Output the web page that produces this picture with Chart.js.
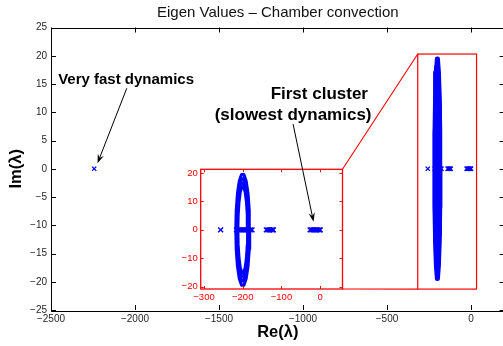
<!DOCTYPE html>
<html>
<head>
<meta charset="utf-8">
<script src="https://cdn.jsdelivr.net/npm/chart.js@4.4.0/dist/chart.umd.min.js"></script>
<style>
  html, body { margin: 0; padding: 0; background: #fff; overflow: hidden; width: 503px; height: 346px; }
  canvas { position: absolute; left: 0; top: 0; }
</style>
</head>
<body>
<canvas id="main" width="510" height="346"></canvas>
<canvas id="inset" width="510" height="346"></canvas>
<script>
/* DATA: eigenvalues [Re, Im] */
var fastMode = [[-2243, 0]];

var realAxis = [
  [-257, 0],
  [-216, 0], [-212, 0], [-208, 0], [-204, 0], [-200, 0], [-196, 0],
  [-192, 0], [-188, 0], [-184, 0], [-180, 0], [-176, 0],
  [-139, 0], [-135, 0], [-131, 0], [-127, 0], [-123, 0], [-121, 0],
  [-26, 0], [-22, 0], [-18, 0], [-14, 0], [-10, 0], [-6, 0], [-2, 0], [0, 0]
];

// the dense oval band around Re = -200, traced as four nested outlines
var ringOuter = [
  [-182.0, 0], [-183.1, 6.8], [-186.2, 12.7], [-191.0, 17.1], [-196.9, 19.5],
  [-203.1, 19.5], [-209.0, 17.1], [-213.8, 12.7], [-216.9, 6.8], [-218.0, 0],
  [-216.9, -6.8], [-213.8, -12.7], [-209.0, -17.1], [-203.1, -19.5], [-196.9, -19.5],
  [-191.0, -17.1], [-186.2, -12.7], [-183.1, -6.8], [-182.0, 0]
];
var ringMid1 = [
  [-184.2, 0], [-185.2, 6.3], [-187.9, 11.8], [-192.1, 15.8], [-197.3, 18.0],
  [-202.7, 18.0], [-207.9, 15.8], [-212.1, 11.8], [-214.8, 6.3], [-215.8, 0],
  [-214.8, -6.3], [-212.1, -11.8], [-207.9, -15.8], [-202.7, -18.0], [-197.3, -18.0],
  [-192.1, -15.8], [-187.9, -11.8], [-185.2, -6.3], [-184.2, 0]
];
var ringMid2 = [
  [-185.8, 0], [-186.7, 5.7], [-189.1, 10.8], [-192.9, 14.5], [-197.5, 16.5],
  [-202.5, 16.5], [-207.1, 14.5], [-210.9, 10.8], [-213.3, 5.7], [-214.2, 0],
  [-213.3, -5.7], [-210.9, -10.8], [-207.1, -14.5], [-202.5, -16.5], [-197.5, -16.5],
  [-192.9, -14.5], [-189.1, -10.8], [-186.7, -5.7], [-185.8, 0]
];
var ringInner = [
  [-187.5, 0], [-188.3, 5.2], [-190.4, 9.8], [-193.8, 13.3], [-197.8, 15.1],
  [-202.2, 15.1], [-206.3, 13.3], [-209.6, 9.8], [-211.8, 5.2], [-212.5, 0],
  [-211.8, -5.2], [-209.6, -9.8], [-206.3, -13.3], [-202.2, -15.1], [-197.8, -15.1],
  [-193.8, -13.3], [-190.4, -9.8], [-188.3, -5.2], [-187.5, 0]
];

var xTicks = [-2500, -2000, -1500, -1000, -500, 0];
var yTicks = [-25, -20, -15, -10, -5, 0, 5, 10, 15, 20, 25];
var insetXTicks = [-300, -200, -100, 0];
var insetYTicks = [-20, -10, 0, 10, 20];
/* DATA */

var FONT = 'Liberation Sans, Arial, Helvetica, sans-serif';
var BLUE = '#0000ff';
var RED = '#ff0000';

// zoom rectangle in the main axes and its inset
var zoomBox = { re: [-317, 33], im: [-21.3, 20.3] };

function fmt(v) { return String(v).replace('-', '\u2212'); }
function toXY(p) { return { x: p[0], y: p[1] }; }

function buildDatasets(ringWidth, markSize) {
  var sets = [ringOuter, ringMid1, ringMid2, ringInner].map(function (ring) {
    return {
      data: ring.map(toXY),
      showLine: true,
      borderColor: BLUE,
      borderWidth: ringWidth,
      borderJoinStyle: 'round',
      borderCapStyle: 'round',
      pointRadius: 0,
      fill: false
    };
  });
  sets.push({
    data: realAxis.concat(fastMode).map(toXY),
    showLine: false,
    pointStyle: 'crossRot',
    pointRadius: markSize,
    pointBorderColor: BLUE,
    pointBorderWidth: 1.4,
    borderColor: BLUE
  });
  return sets;
}

function fixTicks(list) {
  return function (scale) { scale.ticks = list.map(function (v) { return { value: v }; }); };
}

function inwardTicks(ctx, chart, xs, ys, len) {
  var a = chart.chartArea, sx = chart.scales.x, sy = chart.scales.y;
  ctx.beginPath();
  xs.forEach(function (v) {
    var px = Math.round(sx.getPixelForValue(v)) + 0.5;
    ctx.moveTo(px, a.bottom); ctx.lineTo(px, a.bottom - len);
    ctx.moveTo(px, a.top); ctx.lineTo(px, a.top + len);
  });
  ys.forEach(function (v) {
    var py = Math.round(sy.getPixelForValue(v)) + 0.5;
    ctx.moveTo(a.left, py); ctx.lineTo(a.left + len, py);
    ctx.moveTo(a.right, py); ctx.lineTo(a.right - len, py);
  });
  ctx.stroke();
}

function arrow(ctx, x0, y0, x1, y1) {
  var ang = Math.atan2(y1 - y0, x1 - x0);
  var c = Math.cos(ang), s = Math.sin(ang);
  var len = 9, half = 3.2, notch = 6;
  ctx.beginPath(); ctx.moveTo(x0, y0); ctx.lineTo(x1 - notch * c, y1 - notch * s); ctx.stroke();
  ctx.beginPath();
  ctx.moveTo(x1, y1);
  ctx.lineTo(x1 - len * c - half * s, y1 - len * s + half * c);
  ctx.lineTo(x1 - notch * c, y1 - notch * s);
  ctx.lineTo(x1 - len * c + half * s, y1 - len * s - half * c);
  ctx.closePath();
  ctx.fill();
}

var mainFrame = {
  id: 'mainFrame',
  afterDraw: function (chart) {
    var ctx = chart.ctx, a = chart.chartArea;
    var sx = chart.scales.x, sy = chart.scales.y;
    ctx.save();
    ctx.strokeStyle = '#000';
    ctx.lineWidth = 1;
    ctx.strokeRect(Math.round(a.left) + 0.5, Math.round(a.top) + 0.5,
      Math.round(a.right - a.left), Math.round(a.bottom - a.top));
    inwardTicks(ctx, chart, xTicks, yTicks, 5);
    // zoom box
    ctx.strokeStyle = RED;
    ctx.lineWidth = 1.2;
    var x0 = sx.getPixelForValue(zoomBox.re[0]), x1 = sx.getPixelForValue(zoomBox.re[1]);
    var y0 = sy.getPixelForValue(zoomBox.im[1]), y1 = sy.getPixelForValue(zoomBox.im[0]);
    ctx.strokeRect(x0, y0, x1 - x0, y1 - y0);
    ctx.restore();
  }
};

var mainChart = new Chart(document.getElementById('main'), {
  type: 'scatter',
  data: { datasets: buildDatasets(4, 3) },
  options: {
    responsive: false,
    animation: false,
    events: [],
    layout: { padding: { left: 0, right: 5, top: 0, bottom: 0 } },
    plugins: {
      legend: { display: false },
      tooltip: { enabled: false },
      title: {
        display: true,
        fullSize: false,
        text: 'Eigen Values \u2013 Chamber convection',
        color: '#111',
        font: { family: FONT, size: 15, weight: 'normal' },
        padding: { top: 3.5, bottom: 6 }
      }
    },
    scales: {
      x: {
        type: 'linear', min: -2500, max: 200,
        afterBuildTicks: fixTicks(xTicks),
        afterFit: function (s) { s.height = 36; },
        grid: { display: false, drawTicks: false },
        border: { display: false },
        ticks: { padding: 3, color: '#262626', font: { family: FONT, size: 10 }, maxRotation: 0, autoSkip: false, callback: fmt },
        title: { display: true, text: 'Re(\u03bb)', color: '#000', font: { family: FONT, size: 16.5, weight: 'bold' }, padding: { top: 0, bottom: 3.4 } }
      },
      y: {
        type: 'linear', min: -25, max: 25,
        afterBuildTicks: fixTicks(yTicks),
        afterFit: function (s) { s.width = 51; },
        grid: { display: false, drawTicks: false },
        border: { display: false },
        ticks: { padding: 4, color: '#262626', font: { family: FONT, size: 10 }, autoSkip: false, callback: fmt },
        title: { display: true, text: 'Im(\u03bb)', color: '#000', font: { family: FONT, size: 16.5, weight: 'bold' }, padding: { top: 6.4, bottom: 0 } }
      }
    }
  },
  plugins: [mainFrame]
});

var insetFrame = {
  id: 'insetFrame',
  beforeDatasetsDraw: function (chart) {
    var ctx = chart.ctx, a = chart.chartArea;
    ctx.save();
    ctx.fillStyle = '#fff';
    ctx.fillRect(a.left, a.top, a.right - a.left, a.bottom - a.top);
    ctx.restore();
  },
  afterDraw: function (chart) {
    var ctx = chart.ctx, a = chart.chartArea;
    var mx = mainChart.scales.x, my = mainChart.scales.y;
    var ix = chart.scales.x, iy = chart.scales.y;
    ctx.save();
    ctx.strokeStyle = RED;
    ctx.lineWidth = 1.3;
    ctx.strokeRect(a.left, a.top, a.right - a.left, a.bottom - a.top);
    ctx.lineWidth = 1;
    inwardTicks(ctx, chart, insetXTicks, insetYTicks, 3);

    // connectors from the inset to the zoom box
    var bx = mx.getPixelForValue(zoomBox.re[0]);
    ctx.lineWidth = 1.1;
    ctx.beginPath();
    ctx.moveTo(a.right, a.top); ctx.lineTo(bx, my.getPixelForValue(zoomBox.im[1]));
    ctx.moveTo(a.right, a.bottom); ctx.lineTo(bx, my.getPixelForValue(zoomBox.im[0]));
    ctx.stroke();

    // annotations
    ctx.fillStyle = '#000';
    ctx.strokeStyle = '#000';
    ctx.lineWidth = 1;
    ctx.textAlign = 'center';
    ctx.textBaseline = 'middle';
    ctx.font = 'bold 15px ' + FONT;
    ctx.fillText('Very fast dynamics', mx.getPixelForValue(-2053), my.getPixelForValue(15.7));
    arrow(ctx, mx.getPixelForValue(-2049), my.getPixelForValue(14.25),
      mx.getPixelForValue(-2223), my.getPixelForValue(0.97));

    ctx.font = 'bold 17px ' + FONT;
    ctx.fillText('First cluster', mx.getPixelForValue(-903), my.getPixelForValue(13.2));
    ctx.fillText('(slowest dynamics)', mx.getPixelForValue(-1059), my.getPixelForValue(9.5));
    arrow(ctx, mx.getPixelForValue(-1059), my.getPixelForValue(7.9),
      ix.getPixelForValue(-17.3), iy.getPixelForValue(2.85));
    ctx.restore();
  }
};

var insetChart = new Chart(document.getElementById('inset'), {
  type: 'scatter',
  data: { datasets: buildDatasets(3, 3.5) },
  options: {
    responsive: false,
    animation: false,
    events: [],
    layout: { padding: { left: 170.7, right: 167.5, top: 169.3, bottom: 37 } },
    plugins: { legend: { display: false }, tooltip: { enabled: false } },
    scales: {
      x: {
        type: 'linear', min: -308.5, max: 57.5,
        afterBuildTicks: fixTicks(insetXTicks),
        afterFit: function (s) { s.height = 20; },
        grid: { display: false, drawTicks: false },
        border: { display: false },
        ticks: { padding: 3, color: RED, font: { family: FONT, size: 9.5 }, maxRotation: 0, autoSkip: false, callback: fmt }
      },
      y: {
        type: 'linear', min: -20.8, max: 21.3,
        afterBuildTicks: fixTicks(insetYTicks),
        afterFit: function (s) { s.width = 30; },
        grid: { display: false, drawTicks: false },
        border: { display: false },
        ticks: { padding: 3, color: RED, font: { family: FONT, size: 9.5 }, autoSkip: false, callback: fmt }
      }
    }
  },
  plugins: [insetFrame]
});
</script>
</body>
</html>
